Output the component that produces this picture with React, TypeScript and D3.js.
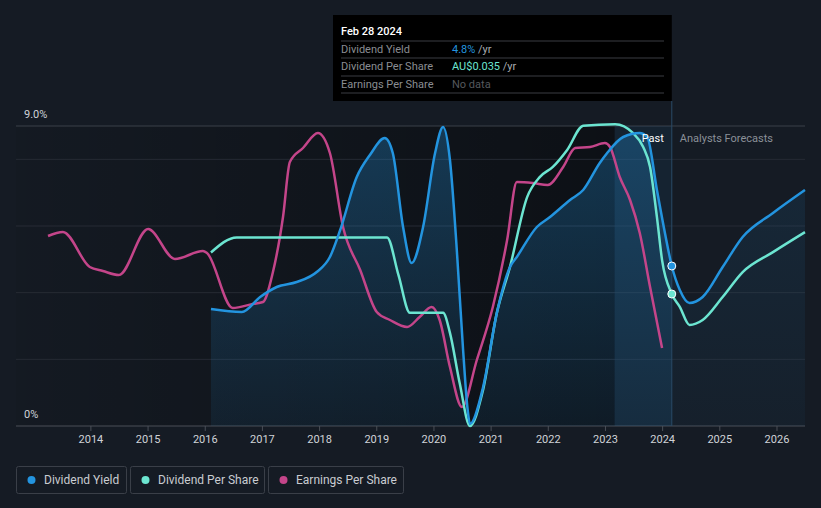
import React from "react";
import * as d3 from "d3";

// ---- Data (decimal years) ----
const yieldYears = [2016.10, 2016.64, 2016.96, 2017.25, 2017.60, 2017.95, 2018.18, 2018.36, 2018.65, 2018.88, 2019.14, 2019.28, 2019.46, 2019.61, 2019.81, 2020.02, 2020.16, 2020.28, 2020.40, 2020.51, 2020.59, 2020.63, 2020.86, 2021.10, 2021.33, 2021.45, 2021.80, 2022.03, 2022.38, 2022.61, 2022.90, 2023.03, 2023.31, 2023.60, 2023.73, 2023.90, 2024.04, 2024.16, 2024.30, 2024.47, 2024.70, 2025.05, 2025.40, 2025.93, 2026.49];
const yieldValues = [3.51, 3.42, 3.87, 4.17, 4.32, 4.62, 5.07, 5.88, 7.47, 8.13, 8.64, 8.19, 5.97, 4.89, 5.97, 8.19, 8.97, 7.98, 5.28, 2.28, 0.48, 0.06, 1.17, 3.39, 4.77, 5.07, 5.97, 6.27, 6.78, 7.08, 7.89, 8.19, 8.67, 8.79, 8.67, 7.08, 5.79, 4.80, 4.08, 3.69, 3.87, 4.77, 5.67, 6.39, 7.08];

const dpsYears = [2016.10, 2016.55, 2019.18, 2019.38, 2019.58, 2020.16, 2020.28, 2020.45, 2020.63, 2020.85, 2021.10, 2021.33, 2021.63, 2021.85, 2022.08, 2022.33, 2022.61, 2023.17, 2023.48, 2023.66, 2023.78, 2023.90, 2023.99, 2024.16, 2024.30, 2024.47, 2024.70, 2025.05, 2025.40, 2025.93, 2026.49];
const dpsValues = [0.046, 0.05, 0.05, 0.040, 0.030, 0.030, 0.0247, 0.0114, 0.0, 0.009, 0.030, 0.0422, 0.0607, 0.066, 0.0687, 0.0732, 0.0796, 0.08, 0.0777, 0.074, 0.0687, 0.0554, 0.044, 0.035, 0.0316, 0.0268, 0.0281, 0.0342, 0.0408, 0.0461, 0.0514];

const epsYears = [2013.25, 2013.51, 2013.98, 2014.21, 2014.49, 2015.00, 2015.47, 2015.96, 2016.03, 2016.48, 2016.83, 2017.01, 2017.18, 2017.36, 2017.48, 2017.71, 2017.97, 2018.18, 2018.41, 2018.71, 2019.00, 2019.23, 2019.53, 2019.75, 2019.96, 2020.10, 2020.28, 2020.49, 2020.75, 2021.03, 2021.28, 2021.45, 2021.73, 2021.99, 2022.26, 2022.47, 2022.73, 2022.99, 2023.08, 2023.25, 2023.43, 2023.60, 2023.78, 2023.99];
const epsValues = [0.057, 0.0582, 0.0477, 0.0465, 0.0453, 0.0591, 0.0501, 0.0525, 0.0519, 0.0354, 0.0366, 0.0372, 0.0459, 0.0627, 0.0792, 0.0834, 0.0879, 0.0819, 0.0597, 0.0468, 0.0342, 0.0318, 0.0297, 0.0327, 0.0357, 0.0318, 0.0177, 0.0057, 0.0198, 0.0357, 0.0558, 0.0732, 0.0729, 0.0723, 0.0777, 0.0834, 0.0837, 0.0849, 0.0837, 0.0747, 0.0678, 0.0579, 0.0417, 0.0234];

const tickYears = [2014, 2015, 2016, 2017, 2018, 2019, 2020, 2021, 2022, 2023, 2024, 2025, 2026];
const gridValues = [0, 2, 4, 6, 8, 9];
const todayYear = 2024.16;
const legendItems = ["Dividend Yield", "Dividend Per Share", "Earnings Per Share"];

const BLUE = "#2394df";
const TEAL = "#6ce5d1";
const PINK = "#c4458a";
const FONT = "Roboto, 'Open Sans', sans-serif";

export default function App() {
  const left = 16, right = 805, top = 126, bottom = 426;
  const x = d3.scaleLinear().domain([2012.69, 2026.49]).range([left, right]);
  const yY = d3.scaleLinear().domain([0, 9]).range([bottom, top]);
  const yD = d3.scaleLinear().domain([0, 0.08]).range([bottom, 124.3]);
  const yE = d3.scaleLinear().domain([0, 0.09]).range([bottom, top]);

  const yieldPts = yieldYears.map((t, i) => [t, yieldValues[i]] as [number, number]);
  const dpsPts = dpsYears.map((t, i) => [t, dpsValues[i]] as [number, number]);
  const epsPts = epsYears.map((t, i) => [t, epsValues[i]] as [number, number]);

  const curve = d3.curveMonotoneX;
  const yieldLine = d3.line<[number, number]>().x(d => x(d[0])).y(d => yY(d[1])).curve(curve);
  const yieldArea = d3.area<[number, number]>().x(d => x(d[0])).y0(bottom).y1(d => yY(d[1])).curve(curve);
  const dpsLine = d3.line<[number, number]>().x(d => x(d[0])).y(d => yD(d[1])).curve(curve);
  const epsLine = d3.line<[number, number]>().x(d => x(d[0])).y(d => yE(d[1])).curve(curve);

  const xToday = x(todayYear);
  const xBand = x(todayYear - 1);
  const yieldToday = yieldValues[yieldYears.indexOf(todayYear)];
  const dpsToday = dpsValues[dpsYears.indexOf(todayYear)];

  const legendBoxes = [
    { x: 16, w: 110, c: BLUE },
    { x: 130, w: 134, c: TEAL },
    { x: 268, w: 135, c: PINK },
  ];

  return (
    <svg width={821} height={508} style={{ position: "absolute", left: 0, top: 0, background: "#151b24", fontFamily: FONT }}>
      <defs>
        <linearGradient id="pastDark" x1="0" x2="1" y1="0" y2="0">
          <stop offset="0" stopColor="#000" stopOpacity={0.05} />
          <stop offset="1" stopColor="#000" stopOpacity={0.4} />
        </linearGradient>
        <linearGradient id="areaGrad" x1="0" x2="0" y1="0" y2="1">
          <stop offset="0" stopColor={BLUE} stopOpacity={0.3} />
          <stop offset="1" stopColor={BLUE} stopOpacity={0.08} />
        </linearGradient>
        <linearGradient id="areaGradF" x1="0" x2="0" y1="0" y2="1">
          <stop offset="0" stopColor={BLUE} stopOpacity={0.12} />
          <stop offset="1" stopColor={BLUE} stopOpacity={0.04} />
        </linearGradient>
        <clipPath id="clipPast"><rect x={0} y={0} width={xToday} height={508} /></clipPath>
        <clipPath id="clipFut"><rect x={xToday} y={0} width={821} height={508} /></clipPath>
      </defs>

      <rect width={821} height={508} fill="#151b24" />
      {/* past darkening */}
      <rect x={left} y={top} width={xBand - left} height={bottom - top} fill="url(#pastDark)" />

      {/* grid */}
      {gridValues.map(v => (
        <line key={v} x1={left} x2={right} y1={yY(v)} y2={yY(v)}
          stroke={v === 9 ? "#3b4049" : v === 0 ? "#4a4f57" : "#262b34"} strokeWidth={1} />
      ))}

      {/* past highlight band */}
      <rect x={xBand} y={top} width={xToday - xBand} height={bottom - top} fill={BLUE} opacity={0.07} />

      {/* area */}
      <path d={yieldArea(yieldPts) || ""} fill="url(#areaGrad)" clipPath="url(#clipPast)" />
      <path d={yieldArea(yieldPts) || ""} fill="url(#areaGradF)" clipPath="url(#clipFut)" />

      {/* today line */}
      <line x1={xToday} x2={xToday} y1={101} y2={bottom} stroke="#2a4a66" strokeWidth={1} />

      {/* lines */}
      <path d={epsLine(epsPts) || ""} fill="none" stroke={PINK} strokeWidth={2.5} />
      <path d={dpsLine(dpsPts) || ""} fill="none" stroke={TEAL} strokeWidth={2.5} />
      <path d={yieldLine(yieldPts) || ""} fill="none" stroke={BLUE} strokeWidth={2.5} />

      <circle cx={xToday} cy={yY(yieldToday)} r={4} fill={BLUE} stroke="#fff" strokeWidth={1} />
      <circle cx={xToday} cy={yD(dpsToday)} r={4} fill={TEAL} stroke="#fff" strokeWidth={1} />

      {/* y labels */}
      <text x={24} y={118} fontSize={11} fill="#d0d3d8">9.0%</text>
      <text x={24} y={418} fontSize={11} fill="#d0d3d8">0%</text>

      {/* x ticks */}
      {tickYears.map(t => (
        <g key={t}>
          <line x1={x(t)} x2={x(t)} y1={bottom} y2={bottom + 5} stroke="#4a4f57" />
          <text x={x(t)} y={443} fontSize={11} fill="#d0d3d8" textAnchor="middle">{t}</text>
        </g>
      ))}

      {/* past / forecast labels */}
      <text x={xToday - 8} y={142} fontSize={11} fill="#ffffff" textAnchor="end">Past</text>
      <text x={xToday + 8} y={142} fontSize={11} fill="#8b9098">Analysts Forecasts</text>

      {/* tooltip */}
      <rect x={333} y={15} width={xToday - 333} height={86} fill="#000" />
      <text x={341} y={35} fontSize={11} fill="#fff" fontWeight={500}>Feb 28 2024</text>
      {[41, 58, 76, 93].map(yy => (
        <line key={yy} x1={341} x2={664} y1={yy} y2={yy} stroke="#3a3d42" strokeWidth={1} />
      ))}
      <text x={341} y={53} fontSize={11} fill="#8a8d92">Dividend Yield</text>
      <text x={452} y={53} fontSize={11}><tspan fill={BLUE}>4.8%</tspan><tspan fill="#a9acb1"> /yr</tspan></text>
      <text x={341} y={70} fontSize={11} fill="#8a8d92">Dividend Per Share</text>
      <text x={452} y={70} fontSize={11}><tspan fill={TEAL}>AU$0.035</tspan><tspan fill="#a9acb1"> /yr</tspan></text>
      <text x={341} y={88} fontSize={11} fill="#8a8d92">Earnings Per Share</text>
      <text x={452} y={88} fontSize={11} fill="#55585d">No data</text>

      {/* legend */}
      {legendItems.map((name, i) => {
        const b = legendBoxes[i];
        return (
          <g key={name}>
            <rect x={b.x + 0.5} y={466.5} width={b.w} height={27} rx={2} fill="none" stroke="#3a3f48" />
            <circle cx={b.x + 15.5} cy={480} r={4} fill={b.c} />
            <text x={b.x + 28} y={484} fontSize={12} fill="#c9ccd1">{name}</text>
          </g>
        );
      })}
    </svg>
  );
}
